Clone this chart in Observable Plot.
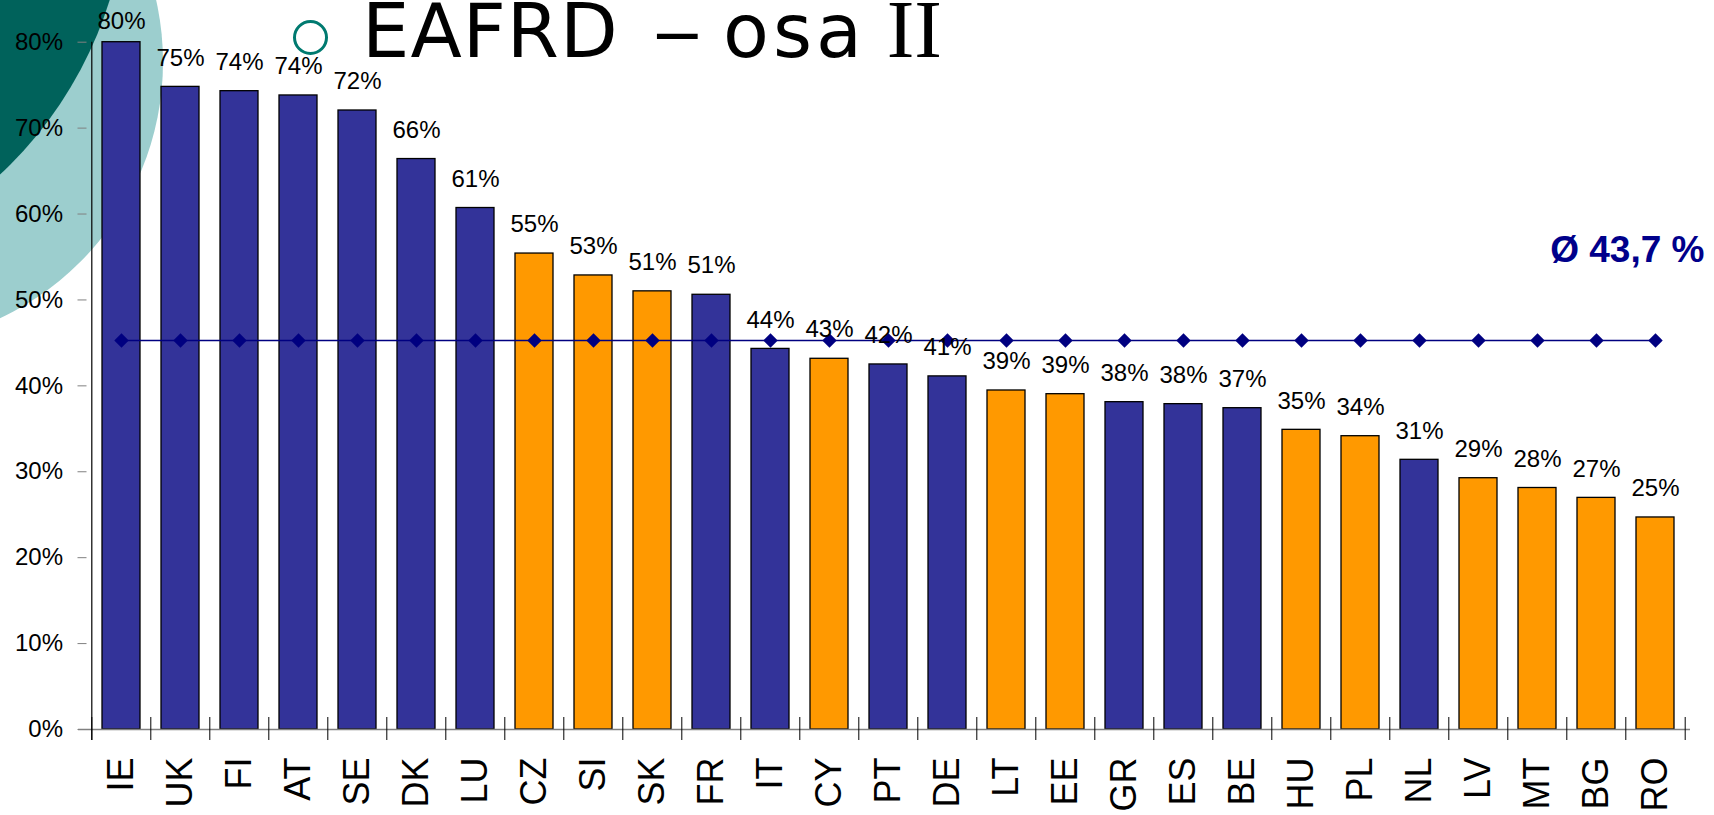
<!DOCTYPE html>
<html><head><meta charset="utf-8">
<script src="https://cdn.jsdelivr.net/npm/d3@7"></script>
<script src="https://cdn.jsdelivr.net/npm/@observablehq/plot@0.6"></script>
<style>
html,body{margin:0;padding:0;background:#fff;width:1714px;height:815px;overflow:hidden;position:relative}
.deco{position:absolute;border-radius:50%}
#chart{position:absolute;left:0;top:0}
#ring{position:absolute;left:292.9px;top:19.5px;width:35.6px;height:35.6px;box-sizing:border-box;border:3.3px solid #007a70;border-radius:50%}
.tt{position:absolute;top:0.7px;font-family:"DejaVu Sans",Verdana,sans-serif;font-size:75px;line-height:60px;white-space:nowrap;color:#000}
#t1{left:362px;letter-spacing:1px}
#t2{left:652px;transform-origin:0 50%;transform:scaleX(1.35)}
#t3{left:723px;letter-spacing:4px}
.ii{font-family:"Liberation Serif",serif;font-size:83px;line-height:0;letter-spacing:0}
</style></head>
<body>
<div class="deco" style="left:-403px;top:-221px;width:566px;height:566px;background:#9ccece"></div>
<div class="deco" style="left:-678px;top:-523px;width:806px;height:806px;background:#00625b"></div>
<div id="chart"></div>
<div id="ring"></div>
<span class="tt" id="t1">EAFRD</span><span class="tt" id="t2">–</span><span class="tt" id="t3">osa<span class="ii"> II</span></span>
<script>
const countries = ["IE","UK","FI","AT","SE","DK","LU","CZ","SI","SK","FR","IT","CY","PT","DE","LT","EE","GR","ES","BE","HU","PL","NL","LV","MT","BG","RO"];
const shares = [0.800,0.748,0.743,0.738,0.7205,0.664,0.607,0.554,0.5285,0.510,0.506,0.443,0.4315,0.4249,0.411,0.3946,0.3903,0.381,0.3787,0.374,0.3488,0.3414,0.3139,0.2925,0.2811,0.2696,0.2468];
const groups = ["EU15","EU15","EU15","EU15","EU15","EU15","EU15","EU12","EU12","EU12","EU15","EU15","EU12","EU15","EU15","EU12","EU12","EU15","EU15","EU15","EU12","EU12","EU15","EU12","EU12","EU12","EU12"];
const groupNames = ["EU15","EU12"];
const groupColors = ["#333399","#FF9900"];
const yTicks = [0,0.1,0.2,0.3,0.4,0.5,0.6,0.7,0.8];
const yDomain = [0,0.8];
const averageLine = 0.4528;
const averageLabel = "Ø 43,7 %";

const data = countries.map((c,i)=>({country:c, share:shares[i], group:groups[i]}));
const W=1714, H=815, mL=86.5, mR=24, mT=41.7, mB=86;
const step=(W-mL-mR)/countries.length;
const font="'Liberation Sans', Arial, sans-serif";
const pct=d3.format(".0%");
const last=countries[countries.length-1];
const atTop=d=>d.share>=yDomain[1];

const plot = Plot.plot({
  width:W, height:H, marginLeft:mL, marginRight:mR, marginTop:mT, marginBottom:mB,
  style:{background:"transparent", fontFamily:font, color:"#000", overflow:"visible"},
  x:{domain:countries, paddingInner:0.36, paddingOuter:0.18, label:null},
  y:{domain:yDomain, label:null},
  color:{domain:groupNames, range:groupColors},
  marks:[
    Plot.barY(data,{x:"country", y:"share", fill:"group", stroke:"#000", strokeWidth:1.3}),
    Plot.ruleY([0],{stroke:"#808080", strokeWidth:1.3, insetLeft:-8.5}),
    Plot.ruleX([countries[0]],{x:d=>d, y1:()=>yDomain[1], y2:()=>yDomain[0], dx:-step/2, insetBottom:-11, stroke:"#000", strokeWidth:1.2}),
    Plot.ruleX(countries,{x:d=>d, y1:()=>0, y2:()=>0, dx:-step/2, insetTop:-12, insetBottom:-11, stroke:"#000"}),
    Plot.ruleX([last],{x:d=>d, y1:()=>0, y2:()=>0, dx:step/2, insetTop:-12, insetBottom:-11, stroke:"#000"}),
    Plot.axisY({ticks:yTicks, tickFormat:pct, tickSize:9, tickPadding:15, fontSize:24, stroke:"#808080", fill:"#000", label:null}),
    Plot.axisX({tickSize:0, tickPadding:28, tickRotate:-90, fontSize:36, fill:"#000", label:null}),
    Plot.line(countries,{x:d=>d, y:()=>averageLine, stroke:"#000080", strokeWidth:1.6}),
    Plot.dot(countries,{x:d=>d, y:()=>averageLine, symbol:"diamond2", r:6.5, fill:"#000080", stroke:"none"}),
    Plot.text(data,{filter:d=>!atTop(d), x:"country", y:"share", text:d=>pct(d.share), dy:-29, fontSize:24, fill:"#000"}),
    Plot.text(data,{filter:atTop, x:"country", y:"share", text:d=>pct(d.share), dy:-21, fontSize:24, fill:"#000"}),
    Plot.text([averageLabel],{x:()=>last, y:()=>averageLine, text:d=>d, textAnchor:"end", dx:49, dy:-90, fontSize:37, fontWeight:"bold", fill:"#00008B"})
  ]
});
document.getElementById("chart").appendChild(plot);
</script>
</body></html>
